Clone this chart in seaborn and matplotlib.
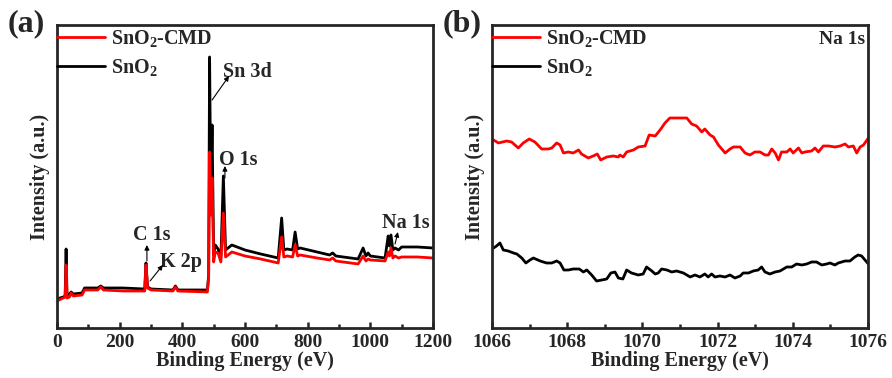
import numpy as np
import pandas as pd
import seaborn as sns
import matplotlib.pyplot as plt
from matplotlib.ticker import MultipleLocator

sns.set_style("ticks")
plt.rcParams['font.family'] = ['Liberation Serif', 'DejaVu Serif']
plt.rcParams['font.weight'] = 'bold'
plt.rcParams['mathtext.fontset'] = 'custom'
plt.rcParams['mathtext.rm'] = 'Liberation Serif:bold'
plt.rcParams['mathtext.it'] = 'Liberation Serif:bold'
plt.rcParams['mathtext.bf'] = 'Liberation Serif:bold'

LBL_CMD = 'SnO$_2$-CMD'
LBL_REF = 'SnO$_2$'

# (a) survey spectrum, binding energy (eV) and intensity (a.u.)
survey_e = [0, 20, 26, 29, 32, 40, 45, 52, 80, 88, 130, 140, 148, 210, 280, 284, 289,
            300, 370, 378, 386, 480, 484, 487, 491, 495, 500, 505, 514, 523, 531, 538,
            546, 558, 600, 650, 706, 717, 724, 734, 752, 760, 768, 776, 830, 870, 880,
            890, 961, 977, 986, 993, 1000, 1047, 1057, 1061, 1066, 1072, 1079, 1090,
            1100, 1150, 1200]
survey_ref = [29, 31, 32, 79, 32, 34, 36, 34, 35, 40, 40, 42, 40, 40, 39, 65, 41,
              39, 38, 42, 38, 38, 53, 271, 128, 203, 73, 83, 79, 70, 152, 78,
              80, 83, 78, 74, 70, 110, 78, 79, 78, 96, 79, 80, 76, 73, 75,
              72, 69, 80, 72, 75, 72, 70, 92, 82, 93, 78, 80, 78,
              81, 81, 80]
survey_cmd = [27, 30, 31, 63, 30, 31, 35, 32, 33, 38, 38, 41, 38, 37, 37, 63, 40,
              38, 37, 41, 37, 36, 50, 176, 113, 150, 66, 76, 75, 66, 115, 71,
              73, 76, 72, 69, 65, 91, 71, 72, 71, 83, 72, 73, 70, 68, 70,
              67, 64, 72, 67, 69, 68, 67, 76, 72, 80, 70, 72, 70,
              71, 71, 70]

# (b) Na 1s high resolution
na_cmd_e = [1066.04, 1066.17, 1066.39, 1066.52, 1066.70, 1066.83, 1066.99, 1067.14,
            1067.32, 1067.50, 1067.59, 1067.72, 1067.81, 1067.90, 1068.03, 1068.16,
            1068.30, 1068.38, 1068.56, 1068.69, 1068.80, 1068.89, 1069.05, 1069.23,
            1069.36, 1069.40, 1069.49, 1069.58, 1069.76, 1069.89, 1070.07, 1070.18,
            1070.34, 1070.47, 1070.60, 1070.73, 1070.91, 1071.18, 1071.31, 1071.44,
            1071.58, 1071.66, 1071.80, 1071.89, 1072.02, 1072.20, 1072.33, 1072.42,
            1072.60, 1072.73, 1072.86, 1072.99, 1073.13, 1073.26, 1073.35, 1073.44,
            1073.53, 1073.62, 1073.70, 1073.84, 1073.93, 1074.01, 1074.15, 1074.24,
            1074.32, 1074.50, 1074.59, 1074.68, 1074.81, 1074.95, 1075.12, 1075.26,
            1075.39, 1075.48, 1075.61, 1075.70, 1075.79, 1075.88, 1076.01]
na_cmd = [188, 185, 187, 186, 180, 185, 189, 186, 179, 179, 180, 185, 183, 175, 176, 175,
          178, 174, 170, 172, 174, 168, 171, 172, 171, 173, 171, 176, 178, 181, 182, 193,
          192, 198, 205, 210, 210, 210, 204, 202, 196, 199, 193, 191, 183, 175, 179, 181,
          181, 175, 173, 176, 176, 173, 173, 179, 175, 168, 176, 176, 179, 175, 180, 175,
          176, 177, 180, 176, 182, 182, 181, 182, 184, 181, 182, 175, 181, 183, 190]
na_ref_e = [1066.04, 1066.12, 1066.21, 1066.30, 1066.43, 1066.57, 1066.66, 1066.79,
            1066.90, 1067.01, 1067.10, 1067.28, 1067.45, 1067.59, 1067.72, 1067.81,
            1067.91, 1068.03, 1068.16, 1068.32, 1068.43, 1068.52, 1068.65, 1068.78,
            1068.92, 1069.05, 1069.16, 1069.27, 1069.36, 1069.48, 1069.58, 1069.71,
            1069.89, 1070.02, 1070.11, 1070.25, 1070.34, 1070.42, 1070.51, 1070.65,
            1070.78, 1070.91, 1071.09, 1071.27, 1071.40, 1071.53, 1071.66, 1071.75,
            1071.84, 1071.93, 1072.06, 1072.20, 1072.33, 1072.46, 1072.60, 1072.68,
            1072.82, 1072.95, 1073.08, 1073.17, 1073.26, 1073.39, 1073.53, 1073.66,
            1073.75, 1073.84, 1073.97, 1074.10, 1074.24, 1074.37, 1074.50, 1074.63,
            1074.77, 1074.90, 1074.99, 1075.12, 1075.21, 1075.39, 1075.52, 1075.65,
            1075.74, 1075.83, 1076.01]
na_ref = [80, 82, 85, 78, 77, 75, 74, 70, 65, 68, 70, 67, 65, 65, 67, 65,
          58, 58, 59, 59, 56, 58, 53, 47, 48, 49, 55, 56, 50, 49, 58, 55,
          53, 54, 61, 57, 54, 55, 59, 58, 56, 57, 55, 51, 53, 51, 54, 51,
          54, 51, 52, 51, 53, 50, 52, 55, 55, 57, 58, 61, 56, 54, 56, 57,
          59, 61, 61, 64, 63, 64, 66, 66, 63, 64, 65, 63, 65, 67, 67, 71,
          73, 72, 64]

survey = pd.concat([
    pd.DataFrame({'E': survey_e, 'I': survey_ref, 'sample': LBL_REF}),
    pd.DataFrame({'E': survey_e, 'I': survey_cmd, 'sample': LBL_CMD}),
])
na = pd.concat([
    pd.DataFrame({'E': na_ref_e, 'I': na_ref, 'sample': LBL_REF}),
    pd.DataFrame({'E': na_cmd_e, 'I': na_cmd, 'sample': LBL_CMD}),
])
pal = {LBL_CMD: 'red', LBL_REF: 'black'}

fig = plt.figure(figsize=(8.92, 3.78), dpi=100)
ax1 = fig.add_axes([0.0639, 0.1323, 0.4215, 0.8016])
ax2 = fig.add_axes([0.5516, 0.1323, 0.4215, 0.8016])

for ax, df in [(ax1, survey), (ax2, na)]:
    sns.lineplot(data=df, x='E', y='I', hue='sample', hue_order=[LBL_REF, LBL_CMD],
                 palette=pal, estimator=None, sort=False, lw=2.0, ax=ax)
    h, l = ax.get_legend_handles_labels()
    ax.legend(h[::-1], l[::-1], loc='upper left', bbox_to_anchor=(0, 0.99),
              borderaxespad=0, borderpad=0, frameon=False, handlelength=2.4,
              handletextpad=0.3, labelspacing=0.4, fontsize=14.5)
    for leg_line in ax.get_legend().get_lines():
        leg_line.set_linewidth(2.0)
    ax.set_ylim(0, 303)
    ax.set_yticks([])
    ax.set_ylabel('Intensity (a.u.)', fontsize=14.5, fontweight='bold', labelpad=5)
    ax.set_xlabel('Binding Energy (eV)', fontsize=14.5, fontweight='bold', labelpad=0)
    ax.tick_params(axis='x', which='both', direction='in', labelsize=14, width=1.8,
                   pad=4, top=False)
    ax.tick_params(axis='x', which='major', length=4)
    ax.tick_params(axis='x', which='minor', length=3)
    for s in ax.spines.values():
        s.set_linewidth(2.0)

ax1.set_xlim(0, 1200)
ax1.xaxis.set_major_locator(MultipleLocator(200))
ax1.xaxis.set_minor_locator(MultipleLocator(100))
ax2.set_xlim(1066, 1076)
ax2.xaxis.set_major_locator(MultipleLocator(2))
ax2.xaxis.set_minor_locator(MultipleLocator(1))
for ax in (ax1, ax2):
    for t in ax.get_xticklabels():
        t.set_fontweight('bold')

arrow = dict(arrowstyle='-|>', lw=0.8, color='black', mutation_scale=7, shrinkA=0, shrinkB=0)
notes = [('C 1s', (304, 93), (287, 67), (287, 83)),
         ('K 2p', (396, 66), (297, 47), (338, 63)),
         ('Sn 3d', (607, 256), (495, 228), (549, 252)),
         ('O 1s', (578, 168), (536, 150), (536, 162)),
         ('Na 1s', (1114, 105), (1079, 84), (1088, 96))]
for txt, tpos, start, end in notes:
    ax1.text(tpos[0], tpos[1], txt, ha='center', va='center', fontsize=14.5, fontweight='bold')
    ax1.annotate('', xy=end, xytext=start, arrowprops=arrow)

ax2.text(1075.92, 288, 'Na 1s', ha='right', va='center', fontsize=14, fontweight='bold')

fig.text(8 / 892, 1 - 24 / 378, '(a)', fontsize=23, fontweight='bold', va='center')
fig.text(443 / 892, 1 - 24 / 378, '(b)', fontsize=23, fontweight='bold', va='center')

fig.savefig('out.png', dpi=100)
